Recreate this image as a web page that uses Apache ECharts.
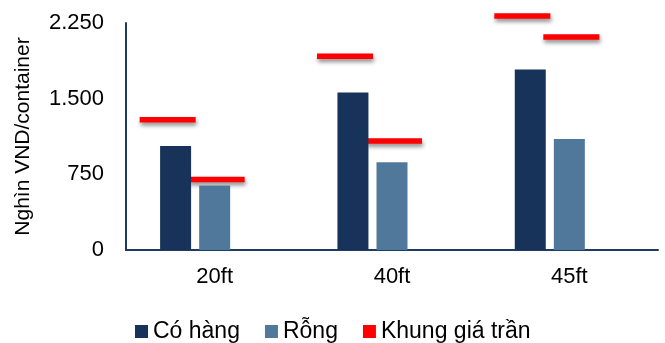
<!DOCTYPE html>
<html>
<head>
<meta charset="utf-8">
<script src="https://cdn.jsdelivr.net/npm/echarts@6/dist/echarts.min.js"></script>
<style>
  html, body { margin: 0; padding: 0; background: #fff; }
  #chart { width: 665px; height: 343px; }
</style>
</head>
<body>
<div id="chart"></div>
<script>
// Container price data (thousand VND per container)
const categories = ['20ft', '40ft', '45ft'];
const coHang = [1030, 1560, 1790];          // loaded containers
const rong = [640, 870, 1100];              // empty containers
const ceilingCoHang = [1290, 1920, 2320];   // price ceiling, loaded
const ceilingRong = [700, 1080, 2110];      // price ceiling, empty
const yTicks = [0, 750, 1500, 2250];

const FONT = 'Liberation Sans, Arial, sans-serif';
const NAVY = '#173359';
const STEEL = '#50789a';
const RED = '#ff0000';
const AXIS = '#1f3a63';

// Ceiling markers: [category index, value, slot] where slot 0 = loaded, 1 = empty
const ceilingData = [];
categories.forEach((c, i) => {
  ceilingData.push([i, ceilingCoHang[i], 0]);
  ceilingData.push([i, ceilingRong[i], 1]);
});

const fmt = v => String(v).replace(/\B(?=(\d{3})+(?!\d))/g, '.');

const chart = echarts.init(document.getElementById('chart'), null, { renderer: 'canvas' });

chart.setOption({
  animation: false,
  backgroundColor: '#fff',
  textStyle: { fontFamily: FONT },
  grid: { left: 126, right: 7, top: 23, bottom: 93, containLabel: false },
  legend: {
    left: 130,
    top: 315,
    icon: 'rect',
    itemWidth: 13,
    itemHeight: 13,
    itemGap: 25,
    textStyle: { fontSize: 23, color: '#000', fontFamily: FONT },
    data: [
      { name: 'Có hàng', itemStyle: { color: NAVY } },
      { name: 'Rỗng', itemStyle: { color: STEEL } },
      { name: 'Khung giá trần', itemStyle: { color: RED } }
    ]
  },
  xAxis: {
    type: 'category',
    data: categories,
    axisLine: { show: true, lineStyle: { color: AXIS, width: 2 } },
    axisTick: { show: false },
    axisLabel: { fontSize: 22, color: '#000', margin: 16, fontFamily: FONT },
    splitLine: { show: false }
  },
  yAxis: {
    type: 'value',
    min: yTicks[0],
    max: yTicks[yTicks.length - 1],
    interval: yTicks[1] - yTicks[0],
    name: 'Nghìn VND/container',
    nameLocation: 'middle',
    nameRotate: 90,
    nameGap: 92,
    nameTextStyle: { fontSize: 21, color: '#000', fontFamily: FONT },
    axisLine: { show: true, lineStyle: { color: AXIS, width: 2 } },
    axisTick: { show: false },
    splitLine: { show: false },
    axisLabel: { fontSize: 22, color: '#000', margin: 22, fontFamily: FONT, formatter: fmt }
  },
  series: [
    {
      name: 'Có hàng',
      type: 'bar',
      data: coHang,
      barWidth: 31,
      barGap: '26%',
      itemStyle: { color: NAVY }
    },
    {
      name: 'Rỗng',
      type: 'bar',
      data: rong,
      barWidth: 31,
      barGap: '26%',
      itemStyle: { color: STEEL }
    },
    {
      // empty third slot so the group sits like a three-bar cluster
      name: '_slot',
      type: 'bar',
      data: categories.map(() => 0),
      barWidth: 31,
      barGap: '26%',
      itemStyle: { opacity: 0 },
      silent: true
    },
    {
      name: 'Khung giá trần',
      type: 'custom',
      clip: false,
      itemStyle: { color: RED },
      data: ceilingData,
      encode: { x: 0, y: 1 },
      renderItem: function (params, api) {
        const p = api.coord([api.value(0), api.value(1)]);
        const slot = api.value(2);
        const shift = slot === 0 ? -47 : 2;
        const w = 56, h = 5.5;
        return {
          type: 'rect',
          shape: { x: p[0] + shift - w / 2, y: p[1] - h / 2, width: w, height: h },
          style: {
            fill: RED,
            shadowColor: 'rgba(0,0,0,0.45)',
            shadowBlur: 4,
            shadowOffsetX: 1,
            shadowOffsetY: 3
          }
        };
      }
    }
  ]
});
</script>
</body>
</html>
